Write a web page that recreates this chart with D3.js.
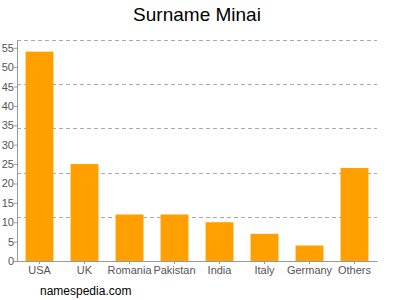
<!DOCTYPE html>
<html>
<head>
<meta charset="utf-8">
<script src="https://cdn.jsdelivr.net/npm/d3@7"></script>
<style>
  body { margin: 0; background: #fff; }
  svg { display: block; font-family: Arial, "Liberation Sans", sans-serif; }
</style>
</head>
<body>
<div id="chart"></div>
<script>
// Surname Minai - country distribution
const countries = ["USA", "UK", "Romania", "Pakistan", "India", "Italy", "Germany", "Others"];
const counts = [54, 25, 12, 12, 10, 7, 4, 24];
const yTicks = [0, 5, 10, 15, 20, 25, 30, 35, 40, 45, 50, 55];

const width = 400, height = 300;
const margin = { top: 40, right: 23, bottom: 39, left: 17 };
const yMax = 57;

const svg = d3.select("#chart")
  .append("svg")
  .attr("width", width)
  .attr("height", height);

const x = d3.scaleBand()
  .domain(countries)
  .range([margin.left, width - margin.right])
  .paddingInner(0.38)
  .paddingOuter(0.19);

const y = d3.scaleLinear()
  .domain([0, yMax])
  .range([height - margin.bottom, margin.top]);

// Title
svg.append("text")
  .attr("x", 197)
  .attr("y", 21)
  .attr("text-anchor", "middle")
  .attr("font-size", 19)
  .attr("fill", "#000")
  .text("Surname Minai");

// Dashed gridlines: 5 equal divisions of the value range
const gridVals = d3.range(1, 6).map((i) => (yMax * i) / 5);
svg.append("g")
  .selectAll("line")
  .data(gridVals)
  .enter()
  .append("line")
  .attr("x1", margin.left)
  .attr("x2", width - margin.right)
  .attr("y1", (d) => Math.round(y(d)) + 0.5)
  .attr("y2", (d) => Math.round(y(d)) + 0.5)
  .attr("stroke", "#aaa")
  .attr("stroke-dasharray", "4,3");

// Bars
svg.append("g")
  .selectAll("rect")
  .data(countries)
  .enter()
  .append("rect")
  .attr("x", (d) => x(d))
  .attr("width", x.bandwidth())
  .attr("y", (d, i) => y(counts[i]))
  .attr("height", (d, i) => y(0) - y(counts[i]))
  .attr("fill", "#FFA000");

// Y axis
const yAxis = svg.append("g")
  .attr("transform", `translate(${margin.left},0)`)
  .call(d3.axisLeft(y).tickValues(yTicks).tickSize(3).tickSizeOuter(0));
yAxis.select(".domain").attr("stroke", "#999");
yAxis.selectAll(".tick line").attr("stroke", "#999");
yAxis.selectAll(".tick text")
  .attr("fill", "#555")
  .attr("font-size", 11)
  .attr("x", -3);

// X axis
const xAxis = svg.append("g")
  .attr("transform", `translate(0,${height - margin.bottom})`)
  .call(d3.axisBottom(x).tickSize(3).tickSizeOuter(0));
xAxis.select(".domain").attr("stroke", "#999");
xAxis.selectAll(".tick line").attr("stroke", "#999");
xAxis.selectAll(".tick text")
  .attr("fill", "#555")
  .attr("font-size", 11)
  .attr("y", 5);

// Source label
svg.append("text")
  .attr("x", 40)
  .attr("y", 295)
  .attr("font-size", 12)
  .attr("fill", "#000")
  .text("namespedia.com");
</script>
</body>
</html>
